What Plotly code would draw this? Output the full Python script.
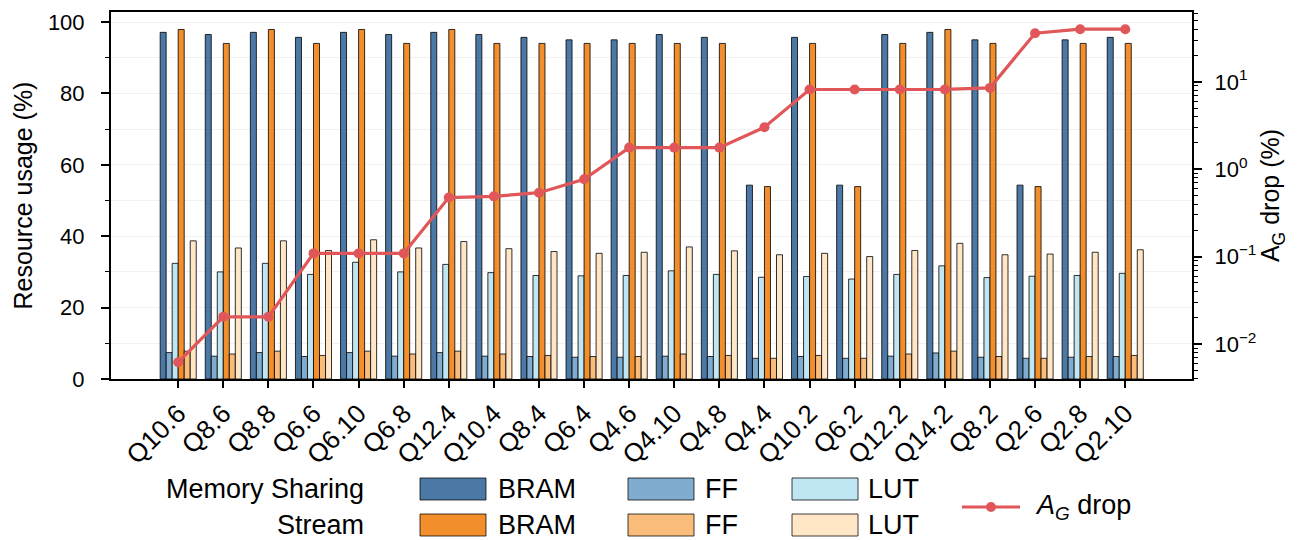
import plotly.graph_objects as go

categories = ["Q10.6", "Q8.6", "Q8.8", "Q6.6", "Q6.10", "Q6.8", "Q12.4", "Q10.4", "Q8.4",
              "Q6.4", "Q4.6", "Q4.10", "Q4.8", "Q4.4", "Q10.2", "Q6.2", "Q12.2", "Q14.2",
              "Q8.2", "Q2.6", "Q2.8", "Q2.10"]

ms_bram = [97.1, 96.5, 97.1, 95.7, 97.1, 96.5, 97.1, 96.5, 95.7, 95.0, 95.0, 96.5, 95.7,
           54.3, 95.7, 54.3, 96.5, 97.1, 95.0, 54.3, 95.0, 95.7]
ms_ff = [7.4, 6.4, 7.4, 6.3, 7.4, 6.4, 7.4, 6.4, 6.3, 6.1, 6.1, 6.4, 6.3,
         5.8, 6.3, 5.8, 6.4, 7.3, 6.1, 5.8, 6.1, 6.3]
ms_lut = [32.4, 30.0, 32.4, 29.3, 32.7, 30.0, 32.1, 29.8, 29.0, 28.9, 29.0, 30.3, 29.3,
          28.5, 28.7, 28.0, 29.3, 31.7, 28.4, 28.8, 29.0, 29.6]
st_bram = [97.9, 94.0, 97.9, 94.0, 97.9, 94.0, 97.9, 94.0, 94.0, 94.0, 94.0, 94.0, 94.0,
           53.9, 94.0, 53.9, 94.0, 97.9, 94.0, 53.9, 94.0, 94.0]
st_ff = [7.8, 7.0, 7.8, 6.6, 7.8, 7.0, 7.8, 7.0, 6.6, 6.3, 6.3, 7.0, 6.6,
         5.8, 6.6, 5.8, 7.0, 7.8, 6.3, 5.8, 6.3, 6.6]
st_lut = [38.7, 36.7, 38.7, 36.0, 39.0, 36.7, 38.5, 36.5, 35.7, 35.2, 35.5, 37.0, 35.9,
          34.8, 35.2, 34.3, 36.0, 38.0, 34.8, 35.0, 35.5, 36.2]
ag_drop = [0.0062, 0.0205, 0.0205, 0.109, 0.109, 0.109, 0.475, 0.49, 0.54, 0.77, 1.77,
           1.77, 1.77, 3.03, 8.19, 8.19, 8.19, 8.2, 8.54, 36.1, 40.1, 40.1]

series_groups = ["Memory Sharing", "Memory Sharing", "Memory Sharing", "Stream", "Stream", "Stream"]
series_names = ["BRAM", "FF", "LUT", "BRAM", "FF", "LUT"]
series_values = [ms_bram, ms_ff, ms_lut, st_bram, st_ff, st_lut]
series_colors = ["#4c78a6", "#80adcf", "#bfe6f2", "#f28e2b", "#f9bc7b", "#ffe6c6"]
line_color = "#e15759"

FONT = "Liberation Sans, Arial, Helvetica, sans-serif"

# plot area in pixels
W, H = 1299, 540
L, R, T, B = 111, 1192, 12, 379
PW, PH = R - L, B - T


def px(x):
    return (x - L) / PW


def py(y):
    return (B - y) / PH


fig = go.Figure()
for grp, name, vals, col in zip(series_groups, series_names, series_values, series_colors):
    fig.add_trace(go.Bar(
        x=categories, y=vals, name=f"{grp} {name}",
        marker=dict(color=col, line=dict(color="rgba(0,0,0,0.8)", width=1)),
        showlegend=False, yaxis="y",
    ))

fig.add_trace(go.Scatter(
    x=categories, y=ag_drop, yaxis="y2", mode="lines+markers",
    line=dict(color=line_color, width=3.2),
    marker=dict(color=line_color, size=10),
    showlegend=False, name="A_G drop",
))

decades = [0.01, 0.1, 1, 10]
dec_text = ["10<sup>−2</sup>", "10<sup>−1</sup>", "10<sup>0</sup>", "10<sup>1</sup>"]
minor_vals = []
for d in [0.001, 0.01, 0.1, 1, 10]:
    for k in range(2, 10):
        minor_vals.append(round(k * d, 6))

fig.update_layout(
    width=W, height=H,
    margin=dict(l=L, r=W - R, t=T, b=H - B, autoexpand=False),
    paper_bgcolor="white", plot_bgcolor="white",
    barmode="group", bargap=0.2, bargroupgap=0,
    font=dict(family=FONT, size=22, color="black"),
    xaxis=dict(
        type="category", range=[-1.49, 22.48],
        showline=True, linecolor="black", linewidth=2, mirror=True,
        ticks="outside", ticklen=7, tickwidth=1.5, tickcolor="black",
        tickangle=-45, tickfont=dict(size=26, family=FONT),
        showgrid=False,
    ),
    yaxis=dict(
        range=[0, 102.8], tickvals=[0, 20, 40, 60, 80, 100],
        showline=True, linecolor="black", linewidth=2,
        ticks="outside", ticklen=8, tickwidth=1.5, tickcolor="black",
        tickfont=dict(size=22, family=FONT), ticklabelstandoff=12,
        showgrid=True, gridcolor="#f1f1f1", gridwidth=1,
        minor=dict(tickvals=[10, 30, 50, 70, 90], ticks="outside", ticklen=4,
                   tickwidth=1.2, tickcolor="black", showgrid=True, gridcolor="#f1f1f1"),
        zeroline=False,
        title=dict(text="Resource usage (%)", font=dict(size=25, family=FONT), standoff=8),
    ),
    yaxis2=dict(
        type="log", range=[-2.40, 1.80], overlaying="y", side="right",
        tickvals=decades, ticktext=dec_text,
        showline=True, linecolor="black", linewidth=2,
        ticks="outside", ticklen=8, tickwidth=1.5, tickcolor="black",
        tickfont=dict(size=22, family=FONT), ticklabelstandoff=8,
        minor=dict(tickvals=minor_vals, ticks="outside", ticklen=4, tickwidth=1.2,
                   tickcolor="black", showgrid=False),
        showgrid=False, zeroline=False,
        title=dict(text="A<sub>G</sub> drop (%)", font=dict(size=25, family=FONT), standoff=6),
    ),
)

# custom legend (matching the two-row layout of the reference)
shapes = []
annotations = []
row_y = [489, 525]
row_labels = ["Memory Sharing", "Stream"]
box_x = [420, 628, 792]
box_w, box_h = 66, 22
text_x = [496, 703, 866]
LEG_SIZE = 27
for r, (yc, lab) in enumerate(zip(row_y, row_labels)):
    annotations.append(dict(x=px(366), y=py(yc), xref="paper", yref="paper", text=lab,
                            showarrow=False, xanchor="right", yanchor="middle",
                            font=dict(size=LEG_SIZE, family=FONT)))
    for c in range(3):
        idx = r * 3 + c
        shapes.append(dict(type="rect", xref="paper", yref="paper",
                           x0=px(box_x[c]), x1=px(box_x[c] + box_w),
                           y0=py(yc - box_h / 2), y1=py(yc + box_h / 2),
                           fillcolor=series_colors[idx],
                           line=dict(color="rgba(0,0,0,0.75)", width=1)))
        annotations.append(dict(x=px(text_x[c]), y=py(yc), xref="paper", yref="paper",
                                text=series_names[idx], showarrow=False,
                                xanchor="left", yanchor="middle",
                                font=dict(size=LEG_SIZE, family=FONT)))

ly = 507
shapes.append(dict(type="line", xref="paper", yref="paper", x0=px(962), x1=px(1020),
                   y0=py(ly), y1=py(ly), line=dict(color=line_color, width=3.2)))
shapes.append(dict(type="circle", xref="paper", yref="paper", x0=px(986), x1=px(996),
                   y0=py(ly + 5), y1=py(ly - 5), fillcolor=line_color,
                   line=dict(color=line_color, width=0)))
annotations.append(dict(x=px(1033), y=py(ly), xref="paper", yref="paper",
                        text="<i>A</i><sub><i>G</i></sub> drop", showarrow=False,
                        xanchor="left", yanchor="middle", font=dict(size=LEG_SIZE, family=FONT)))

fig.update_layout(shapes=shapes, annotations=annotations)
fig.write_html("out.html", config={"displayModeBar": False},
               post_script="document.body.style.margin='0';document.body.style.padding='0';")
